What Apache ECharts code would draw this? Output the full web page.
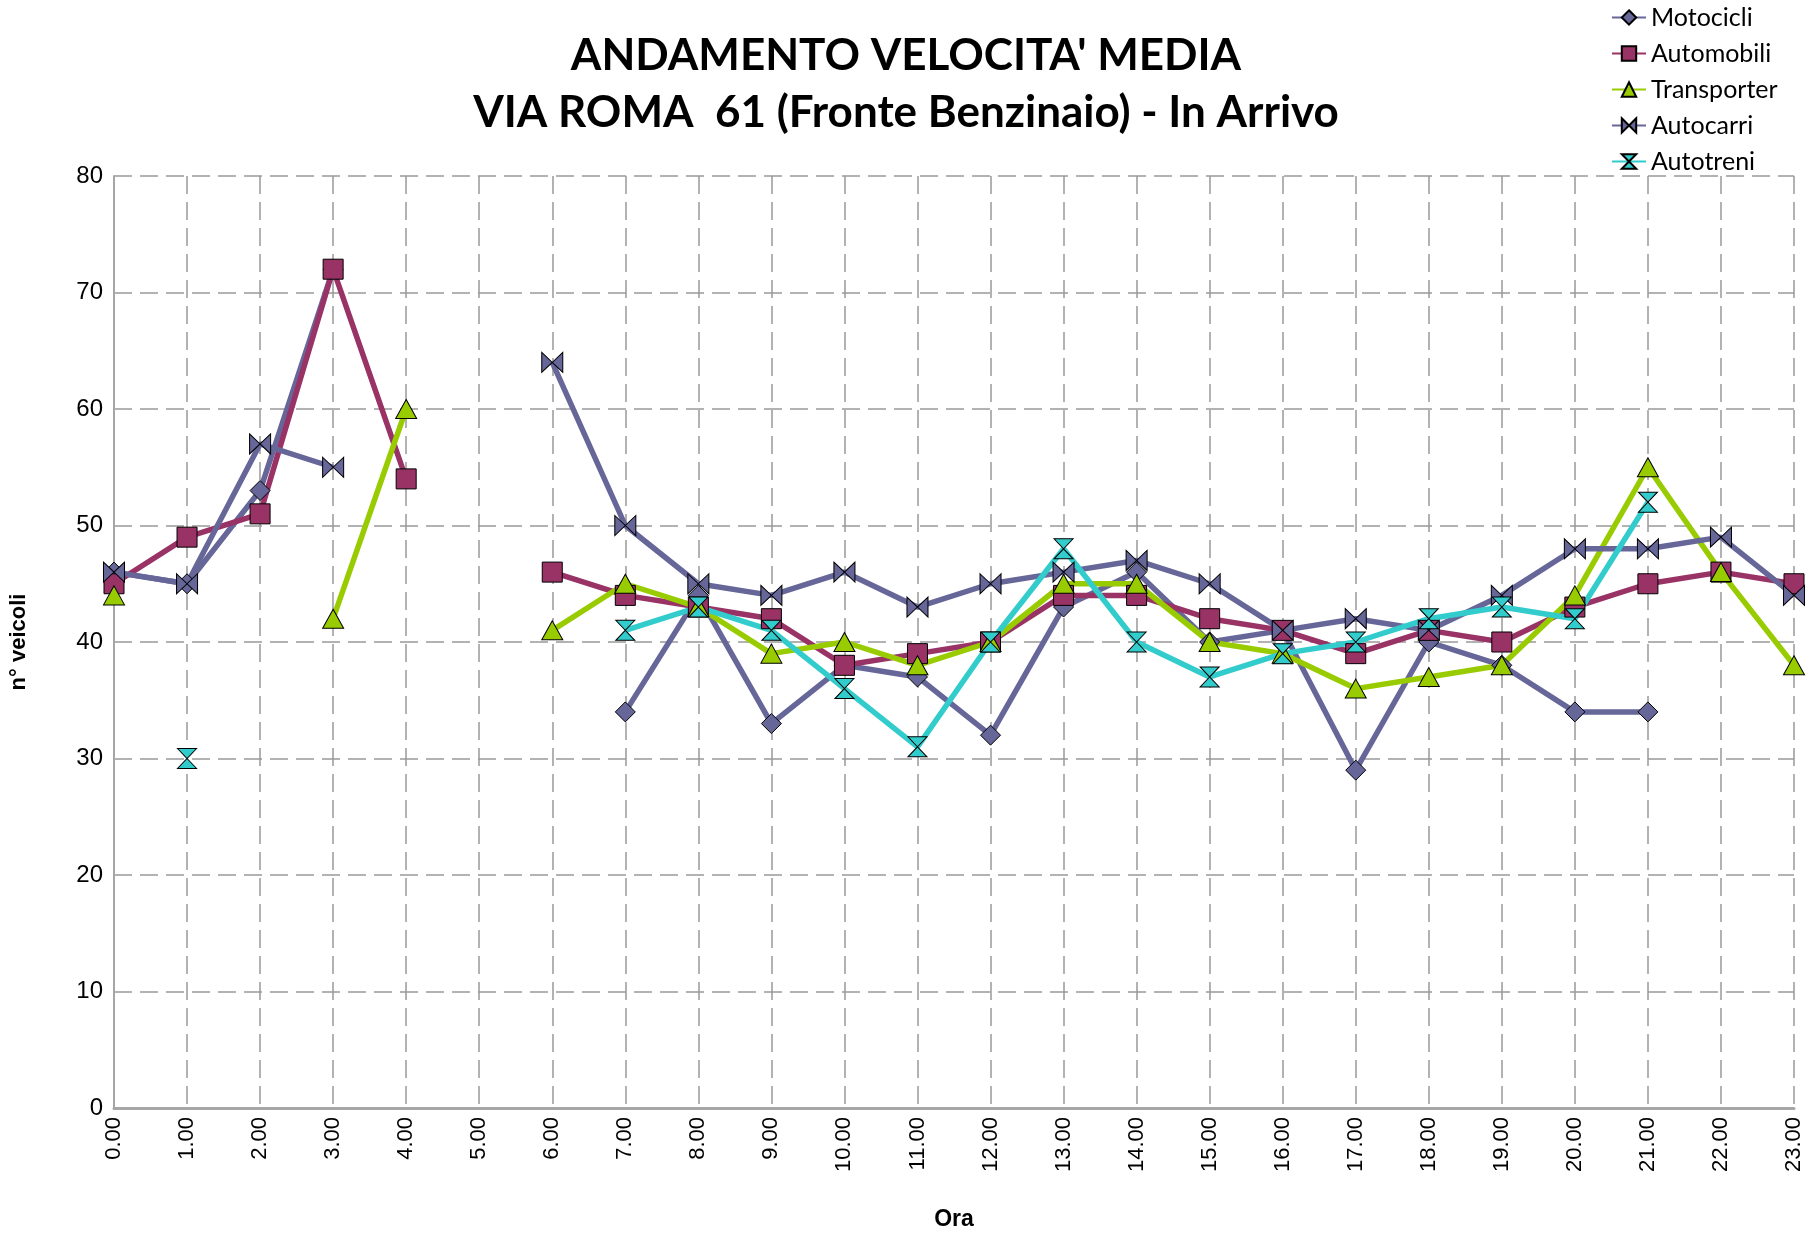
<!DOCTYPE html>
<html>
<head>
<meta charset="utf-8">
<title>Andamento velocita' media</title>
<script src="https://cdn.jsdelivr.net/npm/echarts@6/dist/echarts.min.js"></script>
<style>
  html, body { margin: 0; padding: 0; background: #fff; }
  #main { width: 1812px; height: 1237px; }
</style>
</head>
<body>
<div id="main"></div>
<script>
// ore del giorno (asse x)
const ore = ['0.00', '1.00', '2.00', '3.00', '4.00', '5.00', '6.00', '7.00', '8.00', '9.00', '10.00', '11.00',
  '12.00', '13.00', '14.00', '15.00', '16.00', '17.00', '18.00', '19.00', '20.00', '21.00', '22.00', '23.00'];

// velocita' media per tipo di veicolo (null = nessun dato)
const motocicli   = [46, 45, 53, 72, null, null, null, 34, 44, 33, 38, 37, 32, 43, 46, 40, 41, 29, 40, 38, 34, 34, null, null];
const automobili  = [45, 49, 51, 72, 54, null, 46, 44, 43, 42, 38, 39, 40, 44, 44, 42, 41, 39, 41, 40, 43, 45, 46, 45];
const transporter = [44, null, null, 42, 60, null, 41, 45, 43, 39, 40, 38, 40, 45, 45, 40, 39, 36, 37, 38, 44, 55, 46, 38];
const autocarri   = [46, 45, 57, 55, null, null, 64, 50, 45, 44, 46, 43, 45, 46, 47, 45, 41, 42, 41, 44, 48, 48, 49, 44];
const autotreni   = [null, 30, null, null, null, null, null, 41, 43, 41, 36, 31, 40, 48, 40, 37, 39, 40, 42, 43, 42, 52, null, null];

const yTicks = [0, 10, 20, 30, 40, 50, 60, 70, 80];

const chartDom = document.getElementById('main');
const myChart = echarts.init(chartDom);

// simboli personalizzati (farfalla orizzontale / clessidra verticale)
const bowtie = 'path://M0,0L10,5L0,10Z M20,0L10,5L20,10Z';
const hourglass = 'path://M0,0L10,0L5,5Z M5,5L10,10L0,10Z';

function serie(name, data, color, symbol, size) {
  return {
    name: name,
    type: 'line',
    data: data,
    connectNulls: false,
    showSymbol: true,
    showAllSymbol: true,
    symbol: symbol,
    symbolSize: size,
    lineStyle: { color: color, width: 5.5 },
    itemStyle: { color: color, borderColor: '#000', borderWidth: 1 },
    emphasis: { disabled: true },
    animation: false
  };
}

const option = {
  backgroundColor: '#fff',
  title: {
    text: "ANDAMENTO VELOCITA' MEDIA\nVIA ROMA  61 (Fronte Benzinaio) - In Arrivo",
    left: 'center',
    top: 22,
    textStyle: {
      fontFamily: 'Lato, sans-serif',
      fontWeight: 'bold',
      fontSize: 44,
      lineHeight: 57,
      color: '#000'
    }
  },
  legend: {
    orient: 'vertical',
    left: 1606,
    top: 0,
    itemWidth: 34,
    itemHeight: 18,
    itemGap: 11,
    textStyle: { fontFamily: 'Lato', fontSize: 25, lineHeight: 25, color: '#000' },
    data: ['Motocicli', 'Automobili', 'Transporter', 'Autocarri', 'Autotreni']
  },
  grid: { left: 109, right: 18, top: 176, bottom: 129 },
  xAxis: {
    type: 'category',
    data: ore,
    boundaryGap: false,
    name: 'Ora',
    nameLocation: 'middle',
    nameGap: 100,
    nameTextStyle: { fontFamily: 'Liberation Sans', fontWeight: 'bold', fontSize: 23, color: '#000' },
    axisLine: { lineStyle: { color: '#a6a6a6', width: 3 } },
    axisTick: { show: false },
    axisLabel: { rotate: 90, margin: 9, fontFamily: 'Liberation Sans', fontSize: 22, color: '#000' },
    splitLine: { show: true, lineStyle: { color: '#999', width: 1.5, type: [18, 8] } }
  },
  yAxis: {
    type: 'value',
    min: yTicks[0],
    max: yTicks[yTicks.length - 1],
    interval: 10,
    name: 'n° veicoli',
    nameLocation: 'middle',
    nameGap: 84,
    nameTextStyle: { fontFamily: 'Liberation Sans', fontWeight: 'bold', fontSize: 22, color: '#000' },
    axisLine: { show: true, lineStyle: { color: '#a6a6a6', width: 2 } },
    axisTick: { show: false },
    axisLabel: { margin: 11, fontFamily: 'Liberation Sans', fontSize: 24, color: '#000' },
    splitLine: { show: true, lineStyle: { color: '#999', width: 1.5, type: [18, 8] } }
  },
  series: [
    serie('Motocicli', motocicli, '#666699', 'diamond', 20),
    serie('Automobili', automobili, '#993366', 'rect', 20),
    serie('Transporter', transporter, '#99cc00', 'triangle', [21, 19]),
    serie('Autocarri', autocarri, '#666699', bowtie, [21, 20]),
    serie('Autotreni', autotreni, '#33cccc', hourglass, [19, 20])
  ]
};

option && myChart.setOption(option);
</script>
</body>
</html>
